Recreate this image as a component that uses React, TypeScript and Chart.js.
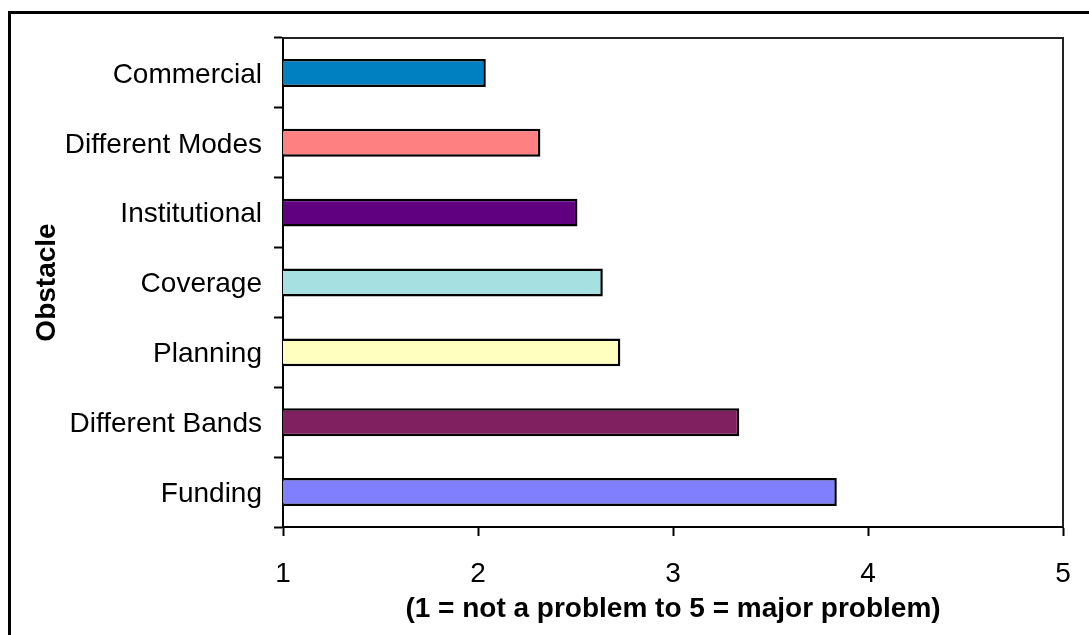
import React, { useEffect, useRef } from "react";
import { Chart, registerables } from "chart.js";

Chart.register(...registerables);

const categories = [
  "Commercial",
  "Different Modes",
  "Institutional",
  "Coverage",
  "Planning",
  "Different Bands",
  "Funding",
];
const scores = [2.04, 2.32, 2.51, 2.64, 2.73, 3.34, 3.84];
const barColors = ["#0080C0", "#FF8080", "#600080", "#A6E0E0", "#FFFFC0", "#802060", "#8080FF"];
const xTicks = [1, 2, 3, 4, 5];
const xTitle = "(1 = not a problem to 5 = major problem)";
const yTitle = "Obstacle";

const FONT = "'Liberation Sans', Arial, sans-serif";

const framePlugin = {
  id: "frame",
  beforeDraw(chart: any) {
    const ctx = chart.ctx;
    ctx.save();
    ctx.fillStyle = "#ffffff";
    ctx.fillRect(0, 0, chart.width, chart.height);
    ctx.strokeStyle = "#000000";
    ctx.lineWidth = 3;
    ctx.beginPath();
    ctx.moveTo(9.5, chart.height + 2);
    ctx.lineTo(9.5, 12.5);
    ctx.lineTo(chart.width + 2, 12.5);
    ctx.stroke();
    ctx.restore();
  },
  afterDraw(chart: any) {
    const { ctx, chartArea } = chart;
    ctx.save();
    ctx.strokeStyle = "#222222";
    ctx.lineWidth = 2;
    ctx.beginPath();
    ctx.moveTo(chartArea.left, chartArea.top);
    ctx.lineTo(chartArea.right, chartArea.top);
    ctx.lineTo(chartArea.right, chartArea.bottom);
    ctx.stroke();
    ctx.restore();
  },
};

export default function App() {
  const ref = useRef<HTMLCanvasElement>(null);

  useEffect(() => {
    document.body.style.margin = "0";
    const canvas = ref.current!;
    const chart = new Chart(canvas, {
      type: "bar",
      data: {
        labels: categories,
        datasets: [
          {
            data: scores,
            backgroundColor: barColors,
            borderColor: "#000000",
            borderWidth: 2.5,
            borderSkipped: false,
            barPercentage: 0.4,
            categoryPercentage: 1,
          },
        ],
      },
      options: {
        indexAxis: "y",
        responsive: false,
        animation: false,
        devicePixelRatio: 1,
        layout: { padding: { top: 38, right: 26, left: 0, bottom: 0 } },
        plugins: {
          legend: { display: false },
          tooltip: { enabled: false },
        },
        scales: {
          x: {
            type: "linear",
            min: 1,
            max: 5,
            afterBuildTicks: (scale: any) => {
              scale.ticks = xTicks.map((v) => ({ value: v }));
            },
            afterFit: (scale: any) => {
              scale.height = 108;
              scale.paddingLeft = 0;
              scale.paddingRight = 0;
            },
            ticks: {
              color: "#000000",
              font: { family: FONT, size: 28 },
              padding: 21,
              maxRotation: 0,
            },
            grid: {
              drawOnChartArea: false,
              drawTicks: true,
              tickLength: 9,
              tickWidth: 2,
              tickColor: "#000000",
            },
            border: { display: true, color: "#000000", width: 2 },
            title: {
              display: true,
              text: xTitle,
              color: "#000000",
              font: { family: FONT, size: 28, weight: "bold" },
              padding: { top: 0, bottom: 9 },
            },
          },
          y: {
            type: "category",
            afterFit: (scale: any) => {
              scale.width = 283;
            },
            ticks: {
              color: "#000000",
              font: { family: FONT, size: 28 },
              padding: 12,
              labelOffset: 2,
            },
            grid: {
              offset: true,
              drawOnChartArea: false,
              drawTicks: true,
              tickLength: 9,
              tickWidth: 2,
              tickColor: "#000000",
            },
            border: { display: true, color: "#000000", width: 2 },
            title: {
              display: true,
              text: yTitle,
              color: "#000000",
              font: { family: FONT, size: 28, weight: "bold" },
              padding: { top: 30, bottom: 0 },
            },
          },
        },
      },
      plugins: [framePlugin],
    });
    return () => chart.destroy();
  }, []);

  return (
    <div style={{ width: 1089, height: 635, overflow: "hidden" }}>
      <canvas ref={ref} width={1089} height={635} style={{ display: "block" }} />
    </div>
  );
}
